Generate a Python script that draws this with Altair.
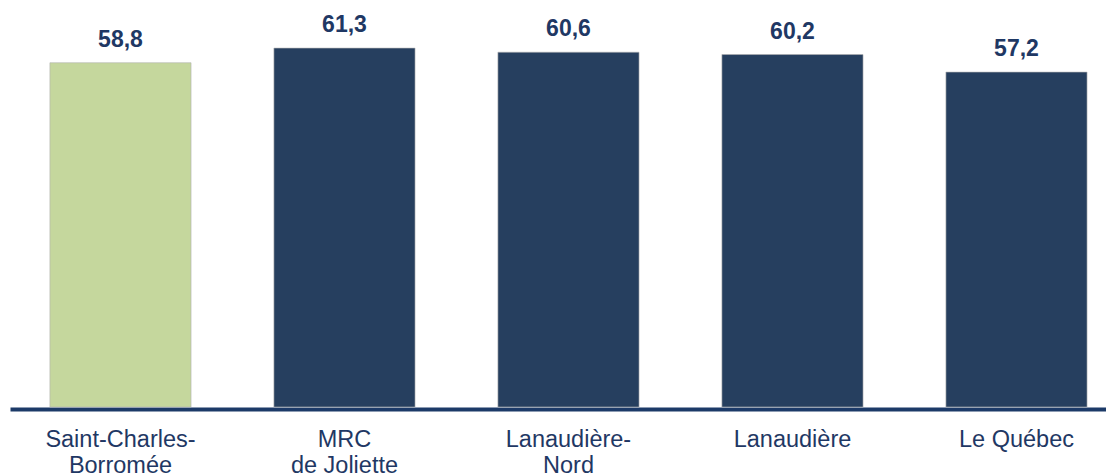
import altair as alt
import pandas as pd

categories = ["Saint-Charles-\nBorromée", "MRC\nde Joliette", "Lanaudière-\nNord", "Lanaudière", "Le Québec"]
values = [58.8, 61.3, 60.6, 60.2, 57.2]
labels = ["58,8", "61,3", "60,6", "60,2", "57,2"]
colors = ["#c5d79d", "#263f5f", "#263f5f", "#263f5f", "#263f5f"]

df = pd.DataFrame({"cat": categories, "val": values, "lab": labels, "col": colors})

x = alt.X("cat:N", sort=None,
          scale=alt.Scale(paddingInner=0.37, paddingOuter=0.1314, align=0.678),
          axis=alt.Axis(title=None, labelAngle=0, ticks=False, domain=True,
                        domainColor="#1c3a68", domainWidth=4, offset=2,
                        labelFont="Liberation Sans", labelFontSize=23.5,
                        labelColor="#1f3864", labelPadding=18, labelLineHeight=26.5,
                        labelExpr="split(datum.label, '\\n')"))
y = alt.Y("val:Q", scale=alt.Scale(domain=[0, 68.15], nice=False, zero=True), axis=None)

bars = alt.Chart(df).mark_bar(stroke="#b0b0b0", strokeWidth=1, strokeOpacity=0.6).encode(
    x=x, y=y, color=alt.Color("col:N", scale=None)
)
text = alt.Chart(df).mark_text(font="Liberation Sans", fontSize=23, fontWeight="bold",
                               color="#1f3864", baseline="alphabetic", dy=-16).encode(
    x=alt.X("cat:N", sort=None), y="val:Q", text="lab:N"
)

chart = (bars + text).properties(
    width=1096, height=399,
    autosize=alt.AutoSizeParams(type="none"),
    padding={"left": 2, "top": 0, "right": 0, "bottom": 66},
).configure_view(stroke=None)

chart.save("out.html", embed_options={"renderer": "svg", "actions": False})
